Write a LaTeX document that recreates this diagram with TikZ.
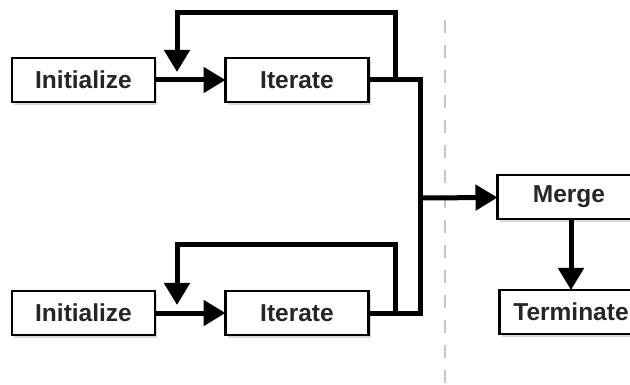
\documentclass[tikz,border=0pt]{standalone}
\usepackage{fontspec}
\setmainfont{Liberation Sans}
\usetikzlibrary{arrows.meta,shadows}

\begin{document}
\begin{tikzpicture}[x=1pt,y=-1pt]
\tikzset{ >={Triangle[length=22pt,width=25pt]}, inner sep=0pt, outer sep=0pt,
  box/.style={draw, line width=2.5pt, fill=white, minimum width=143pt, minimum height=44pt,
    font=\fontsize{24.5}{28}\selectfont\bfseries, text=black!85,
    drop shadow={shadow xshift=2pt, shadow yshift=-3pt, fill=gray!50, opacity=0.6}},
  flow/.style={line width=5pt, line join=miter},
}

\useasboundingbox (0,0) rectangle (630,385);

\draw [gray!45, line width=2pt, dash pattern=on 13pt off 12pt] (445,20) -- (445,385);

\node [box] (init1) at (83.5,80)  {Initialize};
\node [box] (iter1) at (297,80)   {Iterate};
\node [box] (init2) at (83.5,313) {Initialize};
\node [box] (iter2) at (297,313)  {Iterate};
\node [box] (merge) at (569,197)  {Merge};
\node [box] (term)  at (571,312)  {Terminate};

\coordinate (bus1) at (420,80);
\coordinate (bus2) at (420,313);
\coordinate (mid)  at (420,198);

\coordinate (tap1)  at (395,80);
\coordinate (top1)  at (395,13);
\coordinate (left1) at (177,13);
\coordinate (drop1) at (177,72);

\coordinate (tap2)  at (395,313);
\coordinate (top2)  at (395,245);
\coordinate (left2) at (177,245);
\coordinate (drop2) at (177,305);

\draw [->, flow] (init1) -- (iter1);
\draw [->, flow] (init2) -- (iter2);

\draw [flow] (iter1) -- (bus1) -- (bus2) -- (iter2);

\draw [->, flow] (tap1) -- (top1) -- (left1) -- (drop1);
\draw [->, flow] (tap2) -- (top2) -- (left2) -- (drop2);

\draw [->, flow] (mid) -- (merge);
\draw [->, flow] (merge.south -| term.north) -- (term);

\end{tikzpicture}
\end{document}
